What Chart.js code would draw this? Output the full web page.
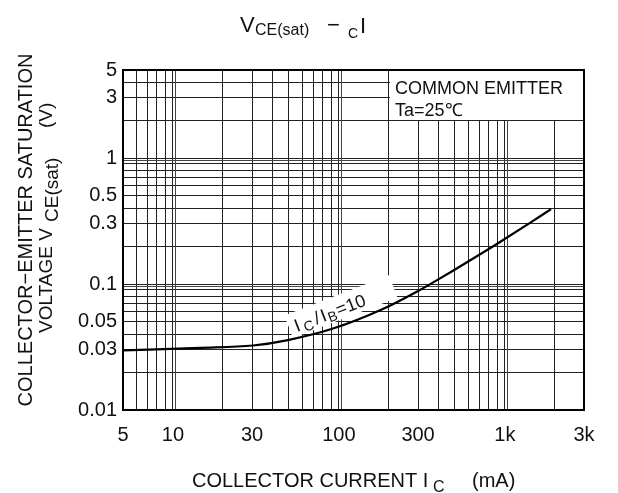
<!DOCTYPE html>
<html>
<head>
<meta charset="utf-8">
<script src="https://cdn.jsdelivr.net/npm/chart.js@4.4.0/dist/chart.umd.min.js"></script>
<style>
html,body{margin:0;padding:0;background:#fff;}
#wrap{width:618px;height:493px;position:relative;}
</style>
</head>
<body>
<div id="wrap"><canvas id="c" width="618" height="493"></canvas></div>
<script>
// ---- data ----
const collectorCurrent = [5, 14.6, 30.4, 49.3, 92.2, 184, 308, 407, 487, 814, 935, 1418, 1898]; // mA
const vceSat = [0.0297, 0.0311, 0.0325, 0.0359, 0.0443, 0.0633, 0.0897, 0.1109, 0.1275, 0.1923, 0.2156, 0.3057, 0.3929]; // V

const xGridValues = [5, 6, 7, 8, 9, 10, 20, 30, 40, 50, 60, 70, 80, 90, 100, 200, 300, 400, 500, 600, 700, 800, 900, 1000, 2000, 3000];
const xLabelValues = [5, 10, 30, 100, 300, 1000, 3000];
const xLabelText = ['5', '10', '30', '100', '300', '1k', '3k'];

const yGridValues = [0.01, 0.02, 0.03, 0.04, 0.05, 0.06, 0.07, 0.08, 0.09, 0.1, 0.2, 0.3, 0.4, 0.5, 0.6, 0.7, 0.8, 0.9, 1, 2, 3, 4, 5];
const yLabelValues = [5, 3, 1, 0.5, 0.3, 0.1, 0.05, 0.03, 0.01];
const yLabelText = ['5', '3', '1', '0.5', '0.3', '0.1', '0.05', '0.03', '0.01'];

const decadeX = [10, 100, 1000];
const decadeY = [0.1, 1];

const FONT = '"Liberation Sans", Arial, sans-serif';
const INK = '#111';

function lookup(v, vals, texts) {
  for (let i = 0; i < vals.length; i++) {
    if (Math.abs(vals[i] - v) / vals[i] < 1e-6) return texts[i];
  }
  return '';
}

const decor = {
  id: 'decor',
  beforeDatasetsDraw(chart) {
    const ctx = chart.ctx, xs = chart.scales.x, ys = chart.scales.y, ca = chart.chartArea;
    ctx.save();
    // double lines at decades
    ctx.strokeStyle = '#444';
    ctx.lineWidth = 1;
    decadeX.forEach(v => {
      const p = Math.round(xs.getPixelForValue(v)) + 2.5;
      ctx.beginPath(); ctx.moveTo(p, ca.top); ctx.lineTo(p, ca.bottom); ctx.stroke();
    });
    decadeY.forEach(v => {
      const p = Math.round(ys.getPixelForValue(v)) + 2.5;
      ctx.beginPath(); ctx.moveTo(ca.left, p); ctx.lineTo(ca.right, p); ctx.stroke();
    });
    // white box for the condition note (top right)
    const bx = Math.round(xs.getPixelForValue(200)) + 1;
    const by = Math.round(ys.getPixelForValue(2));
    ctx.fillStyle = '#fff';
    ctx.fillRect(bx, ca.top, ca.right - bx, by - ca.top);
    // white background behind curve label
    const lx = xs.getPixelForValue(56), ly = ys.getPixelForValue(0.0416);
    ctx.translate(lx, ly);
    ctx.rotate(-21 * Math.PI / 180);
    ctx.fillRect(-6, -20, 112, 24);
    ctx.restore();
  },
  afterDatasetsDraw(chart) {
    const ctx = chart.ctx, xs = chart.scales.x, ys = chart.scales.y, ca = chart.chartArea;
    ctx.save();
    // frame
    ctx.strokeStyle = '#000';
    ctx.lineWidth = 2;
    ctx.strokeRect(ca.left, ca.top, ca.right - ca.left, ca.bottom - ca.top);
    // curve label I_C/I_B=10
    ctx.fillStyle = INK;
    ctx.textBaseline = 'alphabetic';
    ctx.textAlign = 'left';
    const lx = xs.getPixelForValue(56), ly = ys.getPixelForValue(0.0416);
    ctx.save();
    ctx.translate(lx, ly);
    ctx.rotate(-21 * Math.PI / 180);
    let u = 0;
    const piece = (t, size, dy, gap) => {
      ctx.font = size + 'px ' + FONT;
      ctx.fillText(t, u, dy);
      u += ctx.measureText(t).width + (gap || 0);
    };
    piece('I', 18, 0, 3);
    piece('C', 14, 3, 3);
    piece('/', 18, 0, 2);
    piece('I', 18, 0, 1);
    piece('B', 14, 3, 1);
    piece('=10', 18, 0, 0);
    ctx.restore();
    // condition note
    ctx.font = '18px ' + FONT;
    const nx = Math.round(xs.getPixelForValue(200)) + 6;
    ctx.fillText('COMMON EMITTER', nx, 94);
    ctx.fillText('Ta=25\u2103', nx, 116);
    ctx.restore();
  },
  afterDraw(chart) {
    const ctx = chart.ctx;
    ctx.save();
    ctx.fillStyle = INK;
    ctx.textBaseline = 'alphabetic';
    ctx.textAlign = 'left';
    // title
    ctx.font = '22px ' + FONT; ctx.fillText('V', 240, 32);
    ctx.font = '16px ' + FONT; ctx.fillText('CE(sat)', 255, 35);
    ctx.font = '22px ' + FONT; ctx.fillText('\u2212', 327, 32);
    ctx.font = '14px ' + FONT; ctx.fillText('C', 348, 38);
    ctx.font = '22px ' + FONT; ctx.fillText('I', 360, 33);
    // x axis title
    ctx.font = '20px ' + FONT; ctx.fillText('COLLECTOR CURRENT I', 192, 487);
    ctx.font = '16px ' + FONT; ctx.fillText('C', 433, 492);
    ctx.font = '20px ' + FONT; ctx.fillText('(mA)', 472, 487);
    // y axis title line 1
    ctx.save();
    ctx.translate(32, 230);
    ctx.rotate(-Math.PI / 2);
    ctx.textAlign = 'center';
    ctx.font = '20px ' + FONT;
    ctx.fillText('COLLECTOR\u2212EMITTER SATURATION', 0, 0);
    ctx.restore();
    // y axis title line 2
    ctx.save();
    ctx.translate(52, 0);
    ctx.rotate(-Math.PI / 2);
    ctx.font = '19px ' + FONT;
    ctx.fillText('VOLTAGE V', -333, 0);
    ctx.fillText('CE(sat)', -222, 6);
    ctx.fillText('(V)', -128, 0);
    ctx.restore();
    ctx.restore();
  }
};

new Chart(document.getElementById('c'), {
  type: 'line',
  data: {
    datasets: [{
      data: collectorCurrent.map((x, i) => ({ x: x, y: vceSat[i] })),
      borderColor: '#000',
      borderWidth: 2.2,
      pointRadius: 0,
      fill: false,
      cubicInterpolationMode: 'monotone'
    }]
  },
  options: {
    responsive: false,
    animation: false,
    devicePixelRatio: 1,
    layout: { padding: { top: 70, right: 34, left: 0, bottom: 0 } },
    plugins: { legend: { display: false }, tooltip: { enabled: false } },
    scales: {
      x: {
        type: 'logarithmic',
        min: 5, max: 3000,
        afterBuildTicks: s => { s.ticks = xGridValues.map(v => ({ value: v })); },
        afterFit: s => { s.height = 83; },
        ticks: {
          autoSkip: false, maxRotation: 0, minRotation: 0,
          padding: 13,
          color: INK,
          font: { size: 20, family: FONT },
          callback: v => lookup(v, xLabelValues, xLabelText)
        },
        grid: { color: '#222', lineWidth: 1, drawTicks: false },
        border: { display: false }
      },
      y: {
        type: 'logarithmic',
        min: 0.01, max: 5,
        afterBuildTicks: s => { s.ticks = yGridValues.map(v => ({ value: v })); },
        afterFit: s => { s.width = 123; },
        ticks: {
          autoSkip: false,
          padding: 6,
          color: INK,
          font: { size: 20, family: FONT },
          callback: v => lookup(v, yLabelValues, yLabelText)
        },
        grid: { color: '#222', lineWidth: 1, drawTicks: false },
        border: { display: false }
      }
    }
  },
  plugins: [decor]
});
</script>
</body>
</html>
